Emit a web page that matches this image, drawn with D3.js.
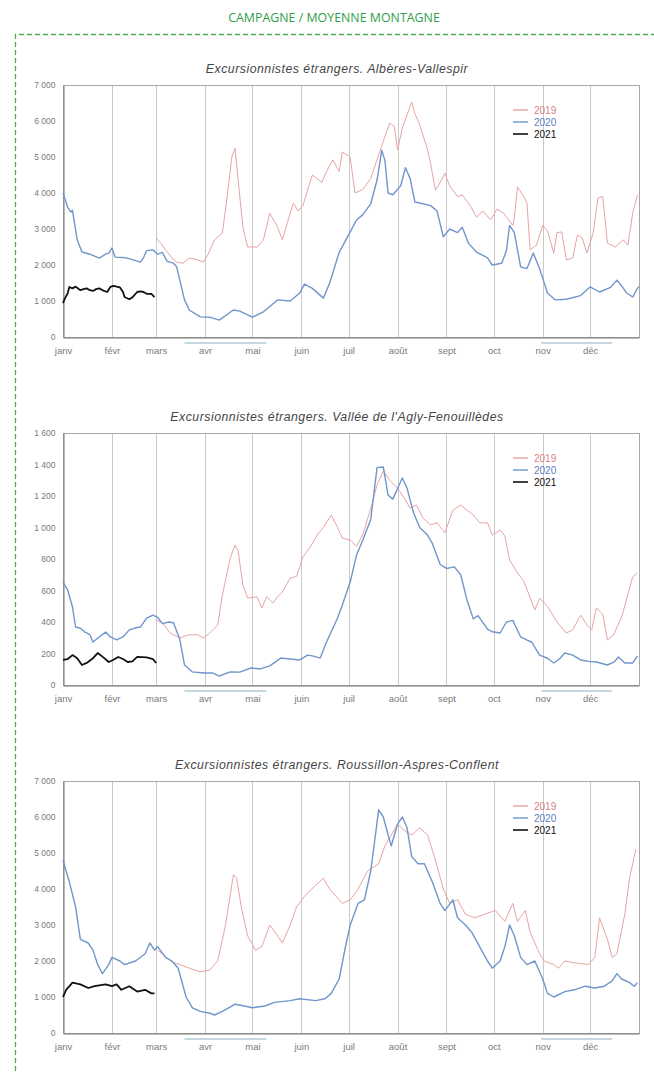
<!DOCTYPE html>
<html lang="fr">
<head>
<meta charset="utf-8">
<script src="https://cdn.jsdelivr.net/npm/d3@7/dist/d3.min.js"></script>
<style>
  html, body { margin: 0; padding: 0; background: #fff; }
  svg { display: block; }
</style>
</head>
<body>
<svg id="page" width="654" height="1074"></svg>
<script>
// Month labels and their first day (day of year, starting at 0)
const monthLabels = ["janv", "févr", "mars", "avr", "mai", "juin", "juil", "août", "sept", "oct", "nov", "déc"];
const monthStarts = [0, 31, 59, 90, 120, 151, 181, 212, 243, 273, 304, 334];

// Lockdown periods 2020 (day of year): 17 March – 11 May, 30 Oct – 15 Dec
const lockdowns = [[77, 129], [303, 348]];

const legendYears = ["2019", "2020", "2021"];

// Y ticks
const ticksAlberes = [0, 1000, 2000, 3000, 4000, 5000, 6000, 7000];
const ticksAgly = [0, 200, 400, 600, 800, 1000, 1200, 1400, 1600];
const ticksRoussillon = [0, 1000, 2000, 3000, 4000, 5000, 6000, 7000];

// ---- Albères-Vallespir: [day of year, visitors]
const alberes2019 = [[59,2750],[62,2600],[65,2420],[69,2200],[72,2080],[76,2050],[80,2190],[85,2150],[89,2080],[92,2300],[96,2700],[101,2890],[104,3890],[107,5000],[109,5250],[111,4360],[114,3050],[117,2500],[123,2500],[127,2700],[131,3440],[136,3050],[139,2700],[143,3300],[146,3720],[149,3500],[152,3650],[158,4500],[164,4300],[167,4600],[171,4920],[175,4600],[177,5140],[182,5000],[185,4000],[190,4100],[195,4400],[201,5190],[207,5940],[210,5850],[212,5190],[215,5800],[221,6530],[223,6200],[226,5900],[231,5200],[233,4800],[236,4080],[239,4300],[242,4550],[245,4200],[250,3900],[253,3950],[258,3650],[262,3330],[266,3500],[271,3250],[275,3550],[279,3450],[285,3100],[286,3300],[288,4170],[292,3900],[294,3720],[296,2420],[300,2550],[304,3100],[307,2950],[311,2330],[313,2900],[316,2920],[319,2140],[323,2200],[326,2830],[329,2750],[332,2330],[336,2900],[339,3860],[342,3900],[345,2610],[350,2500],[355,2700],[358,2550],[361,3440],[364,3940]];
const alberes2020 = [[0,4000],[3,3600],[5,3470],[6,3520],[9,2700],[12,2360],[17,2300],[23,2190],[27,2300],[29,2330],[31,2470],[33,2220],[40,2200],[44,2150],[49,2080],[51,2200],[53,2400],[57,2420],[60,2300],[63,2350],[66,2100],[70,2050],[72,1950],[74,1580],[77,1030],[80,750],[87,560],[93,550],[99,470],[108,750],[112,720],[120,550],[127,700],[136,1030],[144,1000],[150,1220],[153,1470],[158,1350],[165,1080],[169,1500],[175,2350],[182,2920],[186,3250],[190,3400],[195,3700],[199,4360],[202,5190],[204,4900],[206,4000],[209,3950],[214,4200],[217,4700],[220,4400],[223,3750],[228,3700],[233,3650],[237,3500],[241,2780],[245,3000],[250,2900],[253,3050],[257,2600],[262,2360],[269,2200],[272,2000],[278,2050],[281,2400],[283,3100],[286,2900],[290,1950],[294,1900],[298,2330],[302,1900],[307,1220],[312,1030],[319,1050],[328,1150],[334,1390],[340,1250],[347,1380],[351,1580],[354,1420],[357,1230],[361,1110],[364,1350],[365,1400]];
const alberes2021 = [[0,940],[1,1050],[3,1220],[4,1390],[6,1350],[8,1400],[11,1300],[13,1330],[15,1350],[17,1300],[19,1280],[21,1330],[23,1350],[26,1280],[28,1250],[30,1390],[32,1420],[34,1400],[36,1380],[38,1250],[39,1110],[42,1050],[44,1100],[47,1250],[49,1270],[51,1250],[53,1200],[56,1200],[58,1110]];

// ---- Vallée de l'Agly-Fenouillèdes
const agly2019 = [[59,413],[63,394],[68,330],[74,298],[79,317],[85,320],[89,298],[93,330],[98,380],[101,571],[106,806],[109,889],[111,850],[114,635],[117,552],[123,560],[126,489],[129,560],[133,520],[136,560],[139,590],[144,679],[148,690],[152,813],[157,880],[161,952],[165,1000],[170,1079],[174,1000],[177,933],[182,920],[186,880],[190,955],[195,1120],[199,1270],[203,1360],[207,1300],[212,1250],[215,1206],[220,1124],[224,1143],[228,1060],[233,1016],[237,1030],[242,965],[247,1110],[252,1143],[256,1110],[260,1080],[264,1030],[269,1030],[272,952],[277,984],[280,945],[283,794],[288,711],[292,660],[297,527],[299,476],[302,552],[307,500],[313,400],[319,330],[323,350],[328,444],[332,380],[335,349],[338,489],[342,450],[345,286],[349,320],[354,432],[357,540],[361,686],[364,711]];
const agly2020 = [[0,654],[3,603],[6,495],[8,368],[11,360],[14,336],[17,320],[19,273],[23,305],[27,336],[30,305],[34,286],[38,305],[42,350],[47,365],[49,368],[53,425],[57,444],[60,430],[63,390],[67,400],[70,395],[74,290],[77,127],[82,83],[89,76],[95,76],[99,57],[106,83],[112,82],[119,108],[125,102],[131,121],[138,171],[144,165],[150,159],[155,190],[158,185],[163,171],[167,273],[174,425],[177,508],[182,654],[186,825],[190,920],[195,1050],[199,1380],[203,1384],[206,1206],[209,1180],[215,1314],[218,1250],[222,1098],[226,1000],[231,952],[234,900],[239,765],[243,740],[248,750],[252,700],[256,540],[260,420],[263,440],[269,355],[272,338],[277,330],[281,400],[285,410],[290,305],[294,285],[297,273],[302,190],[307,170],[311,140],[315,170],[318,203],[323,190],[328,159],[333,150],[338,146],[345,127],[349,145],[352,178],[356,140],[361,140],[364,184]];
const agly2021 = [[0,159],[3,165],[6,190],[9,170],[12,127],[15,140],[19,170],[22,203],[25,180],[29,146],[32,160],[35,178],[38,165],[41,146],[44,150],[47,178],[53,175],[57,165],[59,140]];

// ---- Roussillon-Aspres-Conflent
const roussillon2019 = [[60,2300],[63,2200],[68,2000],[74,1900],[80,1800],[87,1700],[93,1750],[98,2000],[103,3000],[108,4400],[110,4300],[113,3500],[117,2700],[122,2300],[126,2400],[131,3000],[136,2700],[139,2500],[144,3000],[148,3500],[153,3800],[160,4100],[165,4300],[169,4000],[173,3800],[177,3600],[182,3700],[187,4000],[193,4500],[200,4700],[204,5200],[208,5500],[212,5800],[217,5600],[221,5500],[226,5700],[231,5500],[236,4800],[241,4000],[245,3600],[250,3700],[255,3300],[261,3200],[267,3300],[274,3400],[280,3100],[285,3600],[288,3100],[293,3400],[296,2800],[299,2500],[302,2200],[305,2000],[311,1900],[314,1800],[318,2000],[324,1950],[333,1900],[337,2100],[340,3200],[345,2600],[348,2100],[351,2200],[356,3300],[359,4300],[363,5100]];
const roussillon2020 = [[0,4800],[4,4200],[8,3500],[11,2600],[16,2500],[19,2300],[22,1900],[25,1650],[29,1900],[31,2100],[36,2000],[39,1900],[46,2000],[52,2200],[55,2500],[58,2300],[60,2400],[65,2100],[69,2000],[73,1800],[78,1000],[82,700],[87,600],[93,550],[96,500],[101,600],[105,700],[109,800],[115,750],[120,700],[128,750],[134,850],[144,900],[150,950],[160,900],[166,950],[170,1100],[175,1500],[179,2400],[182,3000],[187,3600],[191,3700],[195,4500],[198,5500],[200,6200],[203,6000],[206,5500],[208,5200],[212,5800],[215,6000],[218,5700],[221,4900],[225,4700],[229,4700],[234,4200],[239,3600],[242,3400],[247,3700],[250,3200],[255,3000],[259,2800],[264,2400],[269,2000],[272,1800],[277,2000],[280,2400],[283,3000],[286,2700],[290,2100],[294,1900],[299,2000],[304,1500],[307,1100],[311,1000],[318,1150],[324,1200],[331,1300],[337,1250],[343,1300],[348,1450],[351,1650],[354,1500],[359,1400],[362,1300],[364,1400]];
const roussillon2021 = [[0,1000],[2,1200],[6,1400],[11,1350],[16,1250],[20,1300],[27,1350],[31,1300],[34,1350],[37,1200],[42,1300],[47,1150],[52,1200],[56,1100],[58,1100]];

const panels = [
  { title: "Excursionnistes étrangers. Albères-Vallespir", top: 85, max: 7000, ticks: ticksAlberes,
    series: [alberes2019, alberes2020, alberes2021] },
  { title: "Excursionnistes étrangers. Vallée de l'Agly-Fenouillèdes", top: 433, max: 1600, ticks: ticksAgly,
    series: [agly2019, agly2020, agly2021] },
  { title: "Excursionnistes étrangers. Roussillon-Aspres-Conflent", top: 781, max: 7000, ticks: ticksRoussillon,
    series: [roussillon2019, roussillon2020, roussillon2021] }
];

const yearColors = ["#e8a3a3", "#7096cc", "#111111"];
const yearWidths = [1, 1.4, 1.8];
const legendText = ["#d98080", "#5a7fc0", "#111111"];

const svg = d3.select("#page");
const W = 654, H = 1074;
const left = 63, right = 639, plotH = 252;

// Section heading and dashed frame
svg.append("text")
  .attr("x", 334).attr("y", 22)
  .attr("text-anchor", "middle")
  .attr("font-family", "'Open Sans', sans-serif")
  .attr("font-size", 12.4)
  .attr("fill", "#2f9e4a")
  .text("CAMPAGNE / MOYENNE MONTAGNE");

svg.append("path")
  .attr("d", `M15.5,${H + 5} V34.5 H${W + 5}`)
  .attr("fill", "none")
  .attr("stroke", "#4dab55")
  .attr("stroke-width", 1.3)
  .attr("stroke-dasharray", "5,3");

const fmt = d3.formatLocale({ decimal: ",", thousands: "\u00a0", grouping: [3], currency: ["", " €"] }).format(",d");

const x = d3.scaleLinear().domain([0, 365]).range([left, right]);

panels.forEach(p => {
  const g = svg.append("g");
  const y = d3.scaleLinear().domain([0, p.max]).range([p.top + plotH, p.top]);
  const bottom = p.top + plotH;

  // Title
  g.append("text")
    .attr("x", 337).attr("y", p.top - 12)
    .attr("text-anchor", "middle")
    .attr("font-family", "'Liberation Sans', Arial, sans-serif")
    .attr("font-style", "italic")
    .attr("font-size", 12.3)
    .attr("letter-spacing", 0.5)
    .attr("fill", "#454545")
    .text(p.title);

  // Month grid lines
  g.selectAll("line.month").data(monthStarts.slice(1)).join("line")
    .attr("x1", d => Math.round(x(d)) + 0.5).attr("x2", d => Math.round(x(d)) + 0.5)
    .attr("y1", p.top).attr("y2", bottom)
    .attr("stroke", "#c9c9c9").attr("stroke-width", 1);

  // Frame
  g.append("rect")
    .attr("x", left + 0.5).attr("y", p.top + 0.5)
    .attr("width", right - left).attr("height", plotH)
    .attr("fill", "none").attr("stroke", "#a8a8a8").attr("stroke-width", 1);

  // Y axis
  const yAxis = d3.axisLeft(y).tickValues(p.ticks).tickFormat(fmt).tickSize(0).tickPadding(8);
  const ya = g.append("g").attr("transform", `translate(${left + 0.5},0)`).call(yAxis);
  ya.select(".domain").attr("stroke", "#777");
  ya.selectAll("text")
    .attr("font-family", "'Liberation Sans', Arial, sans-serif")
    .attr("font-size", 8.5)
    .attr("fill", "#7a7a7a");

  // X axis with month labels
  const xAxis = d3.axisBottom(x).tickValues(monthStarts).tickFormat((d, i) => monthLabels[i]).tickSize(0).tickPadding(10);
  const xa = g.append("g").attr("transform", `translate(0,${bottom + 0.5})`).call(xAxis);
  xa.select(".domain").attr("stroke", "#777").attr("stroke-width", 1.2);
  xa.selectAll("text")
    .attr("font-family", "'Liberation Sans', Arial, sans-serif")
    .attr("font-size", 9.5)
    .attr("fill", "#7a7a7a");

  // Lockdown periods under the axis
  g.selectAll("line.lock").data(lockdowns).join("line")
    .attr("x1", d => x(d[0])).attr("x2", d => x(d[1]))
    .attr("y1", bottom + 6).attr("y2", bottom + 6)
    .attr("stroke", "#b3ccd8").attr("stroke-width", 1.5);

  // Series
  const line = d3.line().x(d => x(d[0])).y(d => y(d[1]));
  p.series.forEach((s, i) => {
    g.append("path")
      .datum(s)
      .attr("d", line)
      .attr("fill", "none")
      .attr("stroke", yearColors[i])
      .attr("stroke-width", yearWidths[i])
      .attr("stroke-linejoin", "round");
  });

  // Legend
  const lg = g.append("g").attr("transform", `translate(513,${p.top + 25})`);
  legendYears.forEach((yr, i) => {
    lg.append("line")
      .attr("x1", 0).attr("x2", 15).attr("y1", i * 12).attr("y2", i * 12)
      .attr("stroke", yearColors[i]).attr("stroke-width", i === 2 ? 1.6 : 1.4);
    lg.append("text")
      .attr("x", 21).attr("y", i * 12 + 3.5)
      .attr("font-family", "'Liberation Sans', Arial, sans-serif")
      .attr("font-size", 10)
      .attr("fill", legendText[i])
      .text(yr);
  });
});
</script>
</body>
</html>
